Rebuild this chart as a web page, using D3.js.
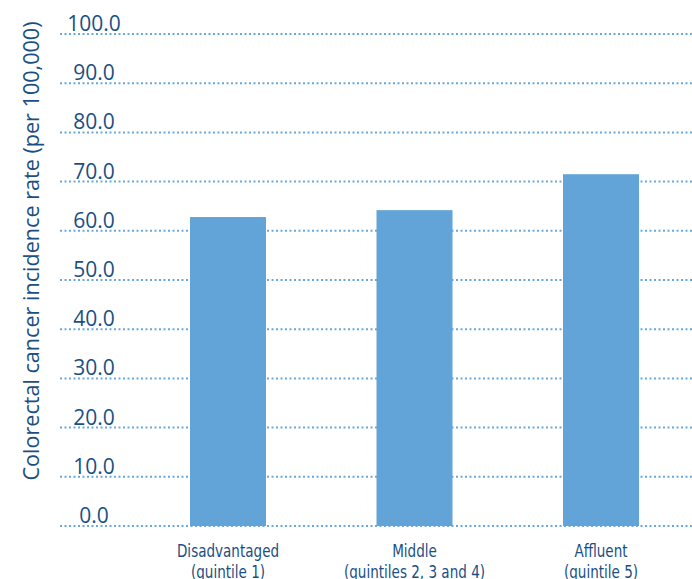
<!DOCTYPE html>
<html>
<head>
<meta charset="utf-8">
<script src="https://cdn.jsdelivr.net/npm/d3@7/dist/d3.min.js"></script>
<style>
  html, body { margin: 0; padding: 0; background: #ffffff; }
  svg { display: block; }
</style>
</head>
<body>
<svg id="chart" width="692" height="579"></svg>
<script>
// Colorectal cancer incidence by area deprivation group
const categories = ["Disadvantaged", "Middle", "Affluent"];
const subLabels = ["(quintile 1)", "(quintiles 2, 3 and 4)", "(quintile 5)"];
const rates = [62.8, 64.2, 71.5];
const yTicks = [0, 10, 20, 30, 40, 50, 60, 70, 80, 90, 100];
const yTitle = "Colorectal cancer incidence rate (per 100,000)";

const textColor = "#1a4f83";
const barColor = "#62a4d7";
const gridColor = "#6aa8dc";

const svg = d3.select("#chart");

const x = d3.scaleBand()
  .domain(categories)
  .range([134.75, 694.25])
  .paddingInner(0.5925)
  .paddingOuter(0.29625);

const y = d3.scaleLinear()
  .domain([0, 100])
  .range([526, 34]);

// dotted horizontal gridlines
svg.append("g")
  .selectAll("line")
  .data(yTicks)
  .join("line")
  .attr("x1", 60)
  .attr("x2", 692)
  .attr("y1", d => y(d))
  .attr("y2", d => y(d))
  .attr("stroke", gridColor)
  .attr("stroke-width", 2)
  .attr("stroke-dasharray", "2,2.5");

// tick labels sit just above their gridline
svg.append("g")
  .selectAll("text")
  .data(yTicks)
  .join("text")
  .attr("x", 94)
  .attr("y", d => y(d) - 3)
  .attr("text-anchor", "middle")
  .attr("font-family", "'Open Sans', 'Noto Sans', sans-serif")
  .attr("font-size", 21)
  .attr("fill", textColor)
  .text(d => d.toFixed(1));

// bars
svg.append("g")
  .selectAll("rect")
  .data(rates)
  .join("rect")
  .attr("x", (d, i) => x(categories[i]))
  .attr("width", x.bandwidth())
  .attr("y", d => y(d))
  .attr("height", d => y(0) - y(d))
  .attr("fill", barColor);

// category labels, two lines each, set in a narrowed face
const xl = svg.append("g")
  .selectAll("text")
  .data(categories)
  .join("text")
  .attr("transform", d => `translate(${x(d) + x.bandwidth() / 2},557) scale(0.86,1)`)
  .attr("text-anchor", "middle")
  .attr("font-family", "'DejaVu Sans Condensed', 'Liberation Sans Narrow', sans-serif")
  .attr("font-size", 17.5)
  .attr("fill", textColor);
xl.append("tspan").attr("x", 0).text(d => d);
xl.append("tspan")
  .attr("x", 0)
  .attr("dy", 21)
  .text((d, i) => subLabels[i]);

// vertical axis title
svg.append("text")
  .attr("transform", "translate(39,251) rotate(-90)")
  .attr("text-anchor", "middle")
  .attr("font-family", "'Open Sans', 'Noto Sans', sans-serif")
  .attr("font-size", 21.6)
  .attr("fill", textColor)
  .text(yTitle);
</script>
</body>
</html>
